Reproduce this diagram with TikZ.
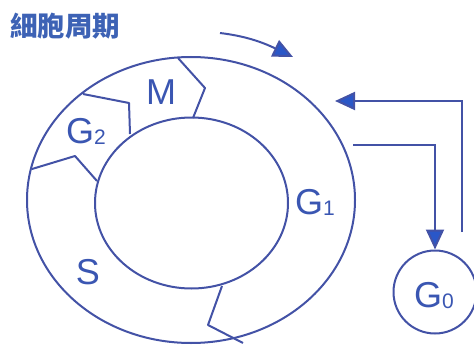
\documentclass[tikz,border=0pt]{standalone}
\usepackage{fontspec}
\setmainfont{Liberation Sans}
\newfontfamily\cjk{Noto Sans CJK TC}
\usetikzlibrary{arrows.meta,shapes.geometric}
\definecolor{ln}{HTML}{4352A6}
\definecolor{tip}{HTML}{2A57C8}
\definecolor{tx}{HTML}{3A56B2}
\definecolor{ttl}{HTML}{3D62B5}
\tikzset{
  ring/.style={draw=ln, line width=2pt},
  lbl/.style={text=tx, font=\fontsize{36}{36}\selectfont, inner sep=0pt},
  flow/.style={draw=ln, line width=2pt, -{Triangle[length=20pt,width=18pt,fill=tip]}},
}
\begin{document}
\begin{tikzpicture}[x=1pt,y=-1pt]
\useasboundingbox (0,0) rectangle (474,345);
% title
\node[anchor=west, text=ttl, inner sep=0pt, font=\cjk\bfseries\fontsize{27.5}{27.5}\selectfont] (title) at (10,26) {細胞周期};
% rings
\draw[ring] (191,200) ellipse [x radius=164, y radius=143];
\draw[ring] (191.5,203) ellipse [x radius=96.5, y radius=85.5];
% dividers
\draw[ring, line join=round] (178,58) -- (205,88) -- (193,118);
\draw[ring, line join=round] (83,94) -- (129,103) -- (130,134);
\draw[ring, line join=round] (32,169) -- (75,156) -- (97,181);
\draw[ring, line join=round] (222,286) -- (208,325) -- (243,343);
% labels
\node[lbl] (m) at (161,92) {M};
\node[lbl] (g2) at (86,131) {G\raisebox{-1pt}{\fontsize{21}{21}\selectfont 2}};
\node[lbl] (s) at (88,272) {S};
\node[lbl] (g1) at (315,202) {G\raisebox{-1pt}{\fontsize{21}{21}\selectfont 1}};
% G0
\node[circle, draw=ln, line width=2pt, minimum size=83pt, inner sep=0pt] (g0) at (435,292) {};
\node[lbl] (g0t) at (434,296) {G\raisebox{-1pt}{\fontsize{21}{21}\selectfont 0}};
% arrows
\coordinate (outA) at (353,145);
\coordinate (inA) at (335,101);
\coordinate (g0r) at (462,232);
\draw[flow] (outA) -| (g0.north);
\draw[flow] (g0r) |- (inA);
\coordinate (c1) at (220,33);
\coordinate (c2) at (293,57);
\draw[flow] (c1) .. controls (245,36) and (262,42) .. (c2);
\end{tikzpicture}
\end{document}
